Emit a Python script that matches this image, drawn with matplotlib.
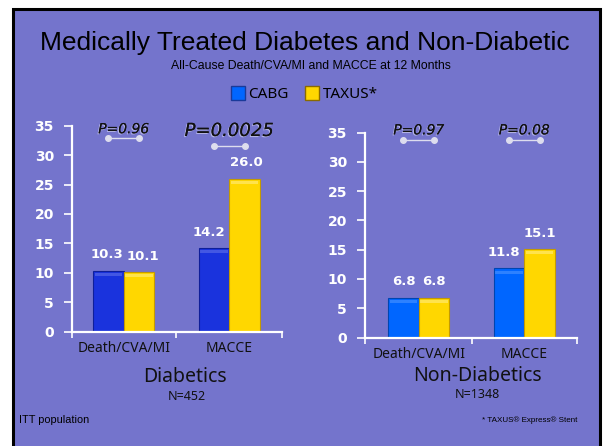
import matplotlib.pyplot as plt
import matplotlib.patheffects as pe
from matplotlib.patches import Rectangle
from matplotlib.lines import Line2D
import numpy as np

# data
categories = ['Death/CVA/MI', 'MACCE']
groups = ['Diabetics', 'Non-Diabetics']
group_n = ['N=452', 'N=1348']
cabg = [[10.3, 14.2], [6.8, 11.8]]
taxus = [[10.1, 26.0], [6.8, 15.1]]
p_values = [['P=0.96', 'P=0.0025'], ['P=0.97', 'P=0.08']]
yticks = [0, 5, 10, 15, 20, 25, 30, 35]

bg = '#7474CC'
cabg_colors = ['#1A33DD', '#0066FF']
cabg_edges = ['#0F1F99', '#0045B0']
taxus_color = '#FFD700'
taxus_edge = '#C49A00'
sans = ['Noto Sans', 'DejaVu Sans']

fig = plt.figure(figsize=(6.04, 4.46), dpi=100)
fig.patch.set_facecolor('white')
fig.patches.append(Rectangle((13 / 604, -0.05), 587 / 604, 1 - 9 / 446 + 0.05,
                             transform=fig.transFigure, facecolor=bg,
                             edgecolor='black', linewidth=2.2, zorder=-10))

fig.text(0.505, 1 - 43 / 446, 'Medically Treated Diabetes and Non-Diabetic',
         ha='center', va='center', fontsize=19, family='Liberation Sans')
fig.text(0.515, 1 - 66 / 446, 'All-Cause Death/CVA/MI and MACCE at 12 Months',
         ha='center', va='center', fontsize=8.8, family='Liberation Sans')

# legend
handles = [Line2D([], [], ls='none', marker='s', markersize=10,
                  markerfacecolor=cabg_colors[1], markeredgecolor='#1A3A99'),
           Line2D([], [], ls='none', marker='s', markersize=10,
                  markerfacecolor=taxus_color, markeredgecolor='#8A6A00')]
fig.legend(handles, ['CABG', 'TAXUS*'], loc='center', ncol=2,
           bbox_to_anchor=(0.503, 1 - 95 / 446), frameon=False,
           prop={'family': sans, 'size': 11}, handletextpad=0.2,
           columnspacing=1.0, handlelength=1.0)

axes_pos = [[72 / 604, 1 - 331.5 / 446, 210 / 604, 205.8 / 446],
            [365 / 604, 1 - 337.5 / 446, 212 / 604, 204.8 / 446]]
xlims = [(-0.49, 1.5), (-0.51, 1.5)]
p_y = [[(34.4, 32.9), (34.1, 31.5)], [(35.4, 33.7), (35.4, 33.7)]]
p_size = [[10, 13], [10, 10]]
# horizontal nudges of the value labels, in points (cabg, taxus) per category
label_dx = [[(-1, 3), (-4, 1)], [(0, 0), (-4, 0)]]
w = 0.29

x = np.arange(len(categories))
for i in range(2):
    ax = fig.add_axes(axes_pos[i])
    ax.set_facecolor('none')
    ax.bar(x - w / 2, cabg[i], w, color=cabg_colors[i], edgecolor=cabg_edges[i], linewidth=0.8)
    ax.bar(x + w / 2, taxus[i], w, color=taxus_color, edgecolor=taxus_edge, linewidth=0.8)
    # top highlight
    ax.bar(x - w / 2, [0.5] * 2, w * 0.9, bottom=np.array(cabg[i]) - 0.9,
           color='white', alpha=0.18, linewidth=0)
    ax.bar(x + w / 2, [0.5] * 2, w * 0.9, bottom=np.array(taxus[i]) - 0.9,
           color='white', alpha=0.3, linewidth=0)

    for j in range(2):
        for k, (xi, v) in enumerate([(x[j] - w / 2, cabg[i][j]), (x[j] + w / 2, taxus[i][j])]):
            ax.annotate(f'{v:.1f}', (xi, v), xytext=(label_dx[i][j][k], 11.5),
                        textcoords='offset points', ha='center', va='center',
                        color='white', fontweight='bold', fontsize=9.5, family='DejaVu Sans')

        ty, ly = p_y[i][j]
        ax.text(x[j], ty, p_values[i][j], ha='center', va='center', style='italic',
                fontsize=p_size[i][j], family='DejaVu Sans', color='#111111', clip_on=False,
                path_effects=[pe.withSimplePatchShadow(offset=(-0.8, -0.8), shadow_rgbFace='white', alpha=0.45),
                              pe.Normal()])
        ax.plot([x[j] - w / 2, x[j] + w / 2], [ly, ly], color='#DDDDEE', lw=1,
                marker='o', markersize=4, clip_on=False)

    ax.set_xlim(*xlims[i])
    ax.set_ylim(0, 35)
    ax.set_yticks(yticks)
    ax.set_yticklabels([str(t) for t in yticks], color='white', fontweight='bold',
                       fontsize=10, family='DejaVu Sans')
    ax.set_xticks([xlims[i][0], 0.5, xlims[i][1]])
    ax.set_xticklabels([])
    ax.set_xticks(x, minor=True)
    ax.set_xticklabels(categories, minor=True, fontsize=10, family=sans, color='#111111')
    ax.tick_params(axis='x', which='minor', length=0, pad=7)
    ax.tick_params(axis='x', which='major', length=4, width=1.2, color='white')
    ax.tick_params(axis='y', length=6, width=1.2, color='white', pad=7)
    for s in ['top', 'right']:
        ax.spines[s].set_visible(False)
    for s in ['left', 'bottom']:
        ax.spines[s].set_color('white')
        ax.spines[s].set_linewidth(1.6)

fig.text(185 / 604, 1 - 377 / 446, groups[0], ha='center', va='center',
         fontsize=14, family=sans, color='#111111')
fig.text(187 / 604, 1 - 397 / 446, group_n[0], ha='center', va='center',
         fontsize=9, family=sans, color='#111111')
fig.text(477 / 604, 1 - 376 / 446, groups[1], ha='center', va='center',
         fontsize=14, family=sans, color='#111111')
fig.text(477 / 604, 1 - 395 / 446, group_n[1], ha='center', va='center',
         fontsize=9, family=sans, color='#111111')

fig.text(19 / 604, 1 - 420 / 446, 'ITT population', ha='left', va='center',
         fontsize=7.8, family='Liberation Sans')
fig.text(577 / 604, 1 - 420 / 446, '* TAXUS® Express® Stent', ha='right', va='center',
         fontsize=5.8, family='Liberation Sans')

fig.savefig('out.png', dpi=100, facecolor=fig.get_facecolor())
